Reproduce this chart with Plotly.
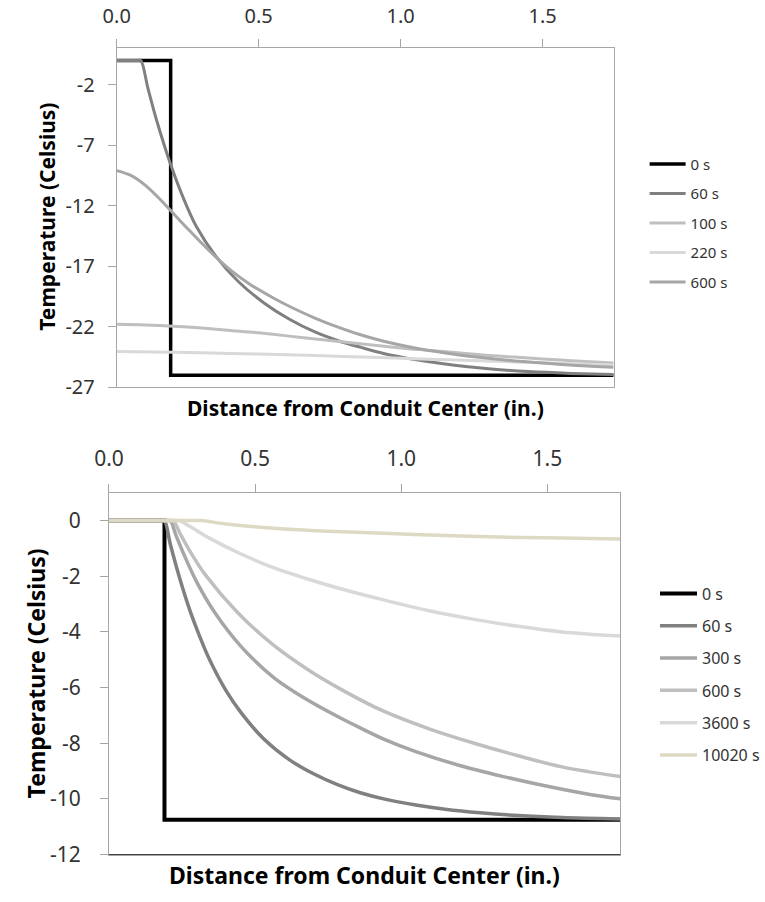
import plotly.graph_objects as go

# ---------------- Upper chart: cooling of a warm conduit ----------------
top_names = ["0 s", "60 s", "100 s", "220 s", "600 s"]
top_colors = ["#000000", "#808080", "#bfbfbf", "#d9d9d9", "#a6a6a6"]
top_widths = [3.5, 3, 3, 3, 3]

top_x_0 = [0, 0.19, 0.19, 1.75]
top_y_0 = [0, 0, -26, -26]

top_x_60 = [0, 0.075, 0.085, 0.11, 0.14, 0.19, 0.23, 0.28, 0.35, 0.43, 0.52, 0.61,
            0.70, 0.78, 0.86, 0.94, 1.05, 1.15, 1.30, 1.45, 1.60, 1.75]
top_y_60 = [0, 0, 0, -2.3, -4.9, -8.6, -11.1, -13.7, -16.2, -18.3, -20.05, -21.4,
            -22.45, -23.15, -23.7, -24.2, -24.7, -25.05, -25.45, -25.7, -25.85, -25.95]

top_x_100 = [0, 0.1, 0.2, 0.3, 0.4, 0.5, 0.6, 0.7, 0.8, 0.9, 1.0, 1.1, 1.2,
             1.3, 1.4, 1.5, 1.6, 1.75]
top_y_100 = [-21.8, -21.85, -21.95, -22.1, -22.3, -22.5, -22.75, -23.0, -23.25,
             -23.5, -23.75, -23.95, -24.15, -24.35, -24.5, -24.65, -24.8, -25.0]

top_x_220 = [0, 0.2, 0.4, 0.6, 0.8, 1.0, 1.2, 1.4, 1.6, 1.75]
top_y_220 = [-24.05, -24.1, -24.2, -24.3, -24.45, -24.6, -24.75, -24.9, -25.05, -25.15]

top_x_600 = [0, 0.05, 0.1, 0.15, 0.19, 0.25, 0.325, 0.4, 0.47, 0.55, 0.62, 0.7,
             0.77, 0.85, 0.94, 1.05, 1.2, 1.35, 1.5, 1.62, 1.75]
top_y_600 = [-9.1, -9.5, -10.3, -11.4, -12.4, -13.9, -15.7, -17.3, -18.5, -19.6,
             -20.45, -21.3, -21.95, -22.6, -23.2, -23.75, -24.3, -24.7, -25.0, -25.2, -25.35]

top_series = [(top_x_0, top_y_0), (top_x_60, top_y_60), (top_x_100, top_y_100),
              (top_x_220, top_y_220), (top_x_600, top_y_600)]

# ---------------- Lower chart: freezing spreading outward ----------------
bot_names = ["0 s", "60 s", "300 s", "600 s", "3600 s", "10020 s"]
bot_colors = ["#000000", "#808080", "#a6a6a6", "#bfbfbf", "#d9d9d9", "#ddd9c3"]
bot_widths = [4, 3.5, 3.5, 3.5, 3.5, 3.5]

bot_x_0 = [0, 0.19, 0.19, 1.75]
bot_y_0 = [0, 0, -10.75, -10.75]

bot_x_60 = [0, 0.18, 0.19, 0.21, 0.24, 0.276, 0.31, 0.342, 0.40, 0.452, 0.53, 0.618,
            0.70, 0.784, 0.86, 0.94, 1.05, 1.15, 1.27, 1.40, 1.55, 1.75]
bot_y_60 = [0, 0, 0, -0.85, -2.0, -3.2, -4.15, -4.95, -6.1, -6.9, -7.85, -8.6,
            -9.1, -9.5, -9.78, -10.0, -10.22, -10.37, -10.5, -10.6, -10.67, -10.72]

bot_x_300 = [0, 0.20, 0.21, 0.23, 0.26, 0.30, 0.365, 0.45, 0.565, 0.68, 0.784, 0.86,
             0.94, 1.05, 1.20, 1.35, 1.50, 1.65, 1.75]
bot_y_300 = [0, 0, 0, -0.55, -1.3, -2.2, -3.35, -4.5, -5.65, -6.45, -7.05, -7.45,
             -7.85, -8.3, -8.8, -9.2, -9.55, -9.85, -10.0]

bot_x_600 = [0, 0.21, 0.22, 0.245, 0.28, 0.33, 0.44, 0.56, 0.68, 0.80, 0.94, 1.10,
             1.25, 1.40, 1.55, 1.75]
bot_y_600 = [0, 0, 0, -0.5, -1.15, -1.95, -3.3, -4.45, -5.35, -6.1, -6.85, -7.5,
             -8.0, -8.45, -8.85, -9.2]

bot_x_3600 = [0, 0.23, 0.24, 0.276, 0.342, 0.452, 0.565, 0.674, 0.784, 0.94, 1.10,
              1.25, 1.40, 1.55, 1.75]
bot_y_3600 = [0, 0, 0, -0.2, -0.62, -1.2, -1.7, -2.08, -2.42, -2.85, -3.25,
              -3.55, -3.8, -4.0, -4.15]

bot_x_10020 = [0, 0.31, 0.32, 0.40, 0.50, 0.60, 0.75, 0.94, 1.10, 1.30, 1.50, 1.75]
bot_y_10020 = [0, 0, 0, -0.12, -0.22, -0.30, -0.38, -0.45, -0.52, -0.58, -0.62, -0.66]

bot_series = [(bot_x_0, bot_y_0), (bot_x_60, bot_y_60), (bot_x_300, bot_y_300),
              (bot_x_600, bot_y_600), (bot_x_3600, bot_y_3600),
              (bot_x_10020, bot_y_10020)]

x_ticks = [0.0, 0.5, 1.0, 1.5]
x_tick_text = ["0.0", "0.5", "1.0", "1.5"]
top_y_ticks = [-27, -22, -17, -12, -7, -2]
bot_y_ticks = [-12, -10, -8, -6, -4, -2, 0]

FONT = "Noto Sans"
W, H = 765, 902

fig = go.Figure()

for i, (xs, ys) in enumerate(top_series):
    fig.add_trace(go.Scatter(
        x=xs, y=ys, name=top_names[i], mode="lines", xaxis="x", yaxis="y",
        line=dict(color=top_colors[i], width=top_widths[i],
                  shape="linear" if i == 0 else "spline", smoothing=0.9),
        legend="legend", legendgroup="t%d" % i))

for i, (xs, ys) in enumerate(bot_series):
    fig.add_trace(go.Scatter(
        x=xs, y=ys, name=bot_names[i], mode="lines", xaxis="x2", yaxis="y2",
        line=dict(color=bot_colors[i], width=bot_widths[i],
                  shape="linear" if i == 0 else "spline", smoothing=0.9),
        legend="legend2", legendgroup="b%d" % i))


def px_x(p):
    return p / W


def px_y(p):
    return 1 - p / H


axis_common = dict(showgrid=False, zeroline=False, showline=True,
                   linecolor="#a6a6a6", linewidth=1, ticks="outside",
                   tickcolor="#a6a6a6", ticklen=8, tickwidth=1, mirror=True)
tick_top = dict(family=FONT, size=20, color="#333333")
tick_bot = dict(family=FONT, size=21, color="#333333")

fig.update_layout(
    width=W, height=H, margin=dict(l=0, r=0, t=0, b=0),
    paper_bgcolor="white", plot_bgcolor="white",
    xaxis=dict(domain=[px_x(105), px_x(618)], anchor="y", side="top",
               range=[0, 1.75], tickvals=x_ticks, ticktext=x_tick_text,
               tickfont=tick_top, ticklabelstandoff=8, **axis_common),
    yaxis=dict(domain=[px_y(393), px_y(49)], anchor="x", range=[-27, 1],
               tickvals=top_y_ticks, ticktext=[str(v) for v in top_y_ticks],
               tickfont=tick_top, ticklabelstandoff=9, **axis_common),
    xaxis2=dict(domain=[px_x(97), px_x(625)], anchor="y2", side="top",
                range=[0, 1.75], tickvals=x_ticks, ticktext=x_tick_text,
                tickfont=tick_bot, ticklabelstandoff=9, **axis_common),
    yaxis2=dict(domain=[px_y(867), px_y(500)], anchor="x2", range=[-12, 1],
                tickvals=bot_y_ticks, ticktext=[str(v) for v in bot_y_ticks],
                tickfont=tick_bot, ticklabelstandoff=15, **axis_common),
    legend=dict(x=px_x(650), y=px_y(150), xanchor="left", yanchor="top",
                font=dict(family=FONT, size=15, color="#333333"),
                tracegroupgap=7, itemwidth=36, bgcolor="rgba(0,0,0,0)"),
    legend2=dict(x=px_x(661), y=px_y(585), xanchor="left", yanchor="top",
                 font=dict(family=FONT, size=16, color="#333333"),
                 tracegroupgap=8.5, itemwidth=37, bgcolor="rgba(0,0,0,0)"),
    showlegend=True,
)

# darker bottom border of the lower plot area
fig.add_shape(type="line", xref="x2 domain", yref="y2 domain",
              x0=0, x1=1, y0=0, y1=0, line=dict(color="#404040", width=1))

title_font = dict(family=FONT, size=21, color="#000000", weight="bold")
title_font2 = dict(family=FONT, size=23, color="#000000", weight="bold")
fig.add_annotation(text="Distance from Conduit Center (in.)", xref="paper", yref="paper",
                   x=px_x(362), y=px_y(414), showarrow=False, font=title_font,
                   xanchor="center", yanchor="middle")
fig.add_annotation(text="Temperature (Celsius)", xref="paper", yref="paper",
                   x=px_x(33), y=px_y(220), showarrow=False, font=title_font,
                   textangle=-90, xanchor="center", yanchor="middle")
fig.add_annotation(text="Distance from Conduit Center (in.)", xref="paper", yref="paper",
                   x=px_x(361), y=px_y(888), showarrow=False, font=title_font2,
                   xanchor="center", yanchor="middle")
fig.add_annotation(text="Temperature (Celsius)", xref="paper", yref="paper",
                   x=px_x(22), y=px_y(683), showarrow=False, font=title_font2,
                   textangle=-90, xanchor="center", yanchor="middle")

fig.write_html("out.html")
